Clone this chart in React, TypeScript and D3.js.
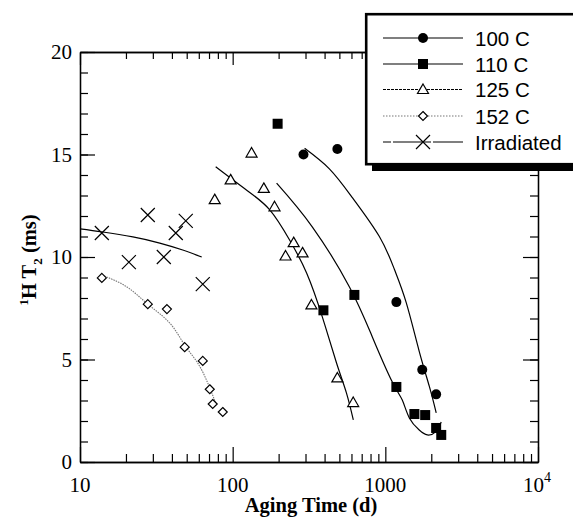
import React, { useEffect, useRef } from 'react';
import * as d3 from 'd3';

// measured points (aging time in days, 1H T2 in ms)
const t100 = [291, 485, 1181, 1745, 2152];
const y100 = [15.0, 15.27, 7.8, 4.5, 3.3];
const t110 = [197, 393, 627, 1181, 1550, 1824, 2152, 2324];
const y110 = [16.5, 7.4, 8.15, 3.66, 2.34, 2.29, 1.66, 1.32];
const t125 = [76.3, 97, 133, 160, 188, 222, 251, 287, 328, 485, 616];
const y125 = [12.8, 13.76, 15.07, 13.35, 12.45, 10.05, 10.7, 10.2, 7.66, 4.1, 2.9];
const t152 = [13.9, 27.8, 37.1, 48.5, 63.7, 70.8, 74.0, 86.1];
const y152 = [8.98, 7.7, 7.46, 5.6, 4.93, 3.55, 2.83, 2.44];
const tIrr = [13.9, 20.9, 27.8, 35.4, 42.4, 49.3, 63.7];
const yIrr = [11.17, 9.75, 12.05, 10.0, 11.17, 11.76, 8.68];

// fitted curves
const fit100T = [296, 430, 608, 914, 1146, 1372, 1667, 1940, 2154];
const fit100Y = [15.3, 14.3, 12.9, 11.0, 9.4, 7.76, 5.4, 3.7, 2.4];
const fit110T = [194, 333, 582, 822, 1111, 1291, 1436, 1667, 1883, 2123, 2324];
const fit110Y = [13.6, 11.46, 8.54, 6.1, 3.9, 3.02, 2.15, 1.56, 1.32, 1.46, 1.95];
const fit125T = [77.4, 123, 175, 236, 305, 387, 479, 556, 617];
const fit125Y = [14.4, 13.27, 12.3, 10.83, 9.22, 7.07, 4.83, 3.37, 2.05];
const fit152T = [13.9, 20.3, 27.8, 38.7, 48.5, 59, 68.7, 77.4];
const fit152Y = [9.12, 8.54, 7.7, 6.78, 5.7, 4.83, 3.85, 2.88];
const fitIrrT = [10, 14.1, 22.2, 33.3, 47.1, 62.7];
const fitIrrY = [11.37, 11.22, 10.98, 10.68, 10.34, 10.0];

const xMajor = [10, 100, 1000, 10000];
const xMinor = [20, 30, 40, 50, 60, 70, 80, 90, 200, 300, 400, 500, 600, 700, 800, 900, 2000, 3000, 4000, 5000, 6000, 7000, 8000, 9000];
const yMajor = [0, 5, 10, 15, 20];
const yMinor = d3.range(0, 21);

const legendLabels = ['100 C', '110 C', '125 C', '152 C', 'Irradiated'];

const W = 573;
const H = 521;

const App = () => {
  const ref = useRef<SVGSVGElement | null>(null);

  useEffect(() => {
    document.body.style.margin = '0';
    const svg = d3.select(ref.current);
    svg.selectAll('*').remove();

    const x = d3.scaleLog().domain([10, 10000]).range([80, 538]);
    const y = d3.scaleLinear().domain([0, 20]).range([462, 52]);
    const serif = '"Liberation Serif", "Times New Roman", serif';
    const sans = '"Liberation Sans", Arial, sans-serif';

    svg.append('rect').attr('width', W).attr('height', H).attr('fill', '#fff');

    const axisG = svg.append('g').attr('class', 'axes');
    const addAxis = (axis: any, tr: string) => {
      const g = axisG.append('g').attr('transform', tr).call(axis);
      g.selectAll('text').remove();
      g.selectAll('line').attr('stroke', '#000').attr('stroke-width', 1.2);
      g.select('.domain').attr('stroke', '#000').attr('stroke-width', 1.3);
    };
    addAxis(d3.axisBottom(x).tickValues(xMajor).tickSize(-15).tickSizeOuter(0), 'translate(0,462)');
    addAxis(d3.axisBottom(x).tickValues(xMinor).tickSize(-8).tickSizeOuter(0), 'translate(0,462)');
    addAxis(d3.axisTop(x).tickValues(xMajor).tickSize(-13).tickSizeOuter(0), 'translate(0,52)');
    addAxis(d3.axisTop(x).tickValues(xMinor).tickSize(-7).tickSizeOuter(0), 'translate(0,52)');
    addAxis(d3.axisLeft(y).tickValues(yMajor).tickSize(-15).tickSizeOuter(0), 'translate(80,0)');
    addAxis(d3.axisLeft(y).tickValues(yMinor).tickSize(-8).tickSizeOuter(0), 'translate(80,0)');
    addAxis(d3.axisRight(y).tickValues(yMajor).tickSize(-15).tickSizeOuter(0), 'translate(538,0)');
    addAxis(d3.axisRight(y).tickValues(yMinor).tickSize(-8).tickSizeOuter(0), 'translate(538,0)');

    // tick labels
    svg.append('g').selectAll('text').data(yMajor).enter().append('text')
      .attr('x', 72).attr('y', (d) => y(d) + 7)
      .attr('text-anchor', 'end').attr('font-family', serif).attr('font-size', 21)
      .text((d) => d);
    svg.append('g').selectAll('text').data(xMajor.slice(0, 3)).enter().append('text')
      .attr('x', (d) => x(d)).attr('y', 492)
      .attr('text-anchor', 'middle').attr('font-family', serif).attr('font-size', 21)
      .text((d) => d);
    const t4 = svg.append('text').attr('x', x(10000) - 1).attr('y', 492)
      .attr('text-anchor', 'middle').attr('font-family', serif).attr('font-size', 21);
    t4.append('tspan').text('10');
    t4.append('tspan').attr('font-size', 14).attr('dy', -10).text('4');

    // axis titles
    svg.append('text').attr('x', 311).attr('y', 512).attr('text-anchor', 'middle')
      .attr('font-family', serif).attr('font-weight', 'bold').attr('font-size', 20.5)
      .text('Aging Time (d)');
    const yt = svg.append('text').attr('transform', 'translate(36,260) rotate(-90)')
      .attr('text-anchor', 'middle').attr('font-family', serif).attr('font-weight', 'bold')
      .attr('font-size', 20.5);
    yt.append('tspan').attr('font-size', 13).attr('dy', -8).text('1');
    yt.append('tspan').attr('dy', 8).text('H T');
    yt.append('tspan').attr('font-size', 13).attr('dy', 6).text('2');
    yt.append('tspan').attr('dy', -6).text(' (ms)');

    // fitted lines
    const line = d3.line<[number, number]>()
      .x((d) => x(d[0])).y((d) => y(d[1])).curve(d3.curveNatural);
    const fits = [
      { t: fit100T, v: fit100Y, color: '#000', w: 1.2, dash: null },
      { t: fit110T, v: fit110Y, color: '#000', w: 1.2, dash: null },
      { t: fit125T, v: fit125Y, color: '#000', w: 1.2, dash: null },
      { t: fit152T, v: fit152Y, color: '#777', w: 1.1, dash: '1.5,1' },
      { t: fitIrrT, v: fitIrrY, color: '#000', w: 1.2, dash: null },
    ];
    svg.append('g').selectAll('path').data(fits).enter().append('path')
      .attr('d', (f) => line(f.t.map((t, i) => [t, f.v[i]] as [number, number])))
      .attr('fill', 'none').attr('stroke', (f) => f.color).attr('stroke-width', (f) => f.w)
      .attr('stroke-dasharray', (f) => f.dash);

    // markers
    const drawMarker = (g: any, kind: number, cx: number, cy: number) => {
      if (kind === 0) {
        g.append('circle').attr('cx', cx).attr('cy', cy).attr('r', 5).attr('fill', '#000');
      } else if (kind === 1) {
        g.append('rect').attr('x', cx - 5).attr('y', cy - 5).attr('width', 10).attr('height', 10).attr('fill', '#000');
      } else if (kind === 2) {
        g.append('path').attr('d', `M${cx},${cy - 5.5}L${cx + 5.5},${cy + 4}L${cx - 5.5},${cy + 4}Z`)
          .attr('fill', '#fff').attr('stroke', '#000').attr('stroke-width', 1.2);
      } else if (kind === 3) {
        g.append('path').attr('d', `M${cx},${cy - 4.5}L${cx + 4.5},${cy}L${cx},${cy + 4.5}L${cx - 4.5},${cy}Z`)
          .attr('fill', '#fff').attr('stroke', '#000').attr('stroke-width', 1.2);
      } else {
        g.append('path').attr('d', `M${cx - 7},${cy - 7}L${cx + 7},${cy + 7}M${cx - 7},${cy + 7}L${cx + 7},${cy - 7}`)
          .attr('fill', 'none').attr('stroke', '#000').attr('stroke-width', 1.2);
      }
    };
    const series = [
      [t100, y100], [t110, y110], [t125, y125], [t152, y152], [tIrr, yIrr],
    ];
    const mg = svg.append('g');
    series.forEach(([ts, vs], k) => {
      ts.forEach((t, i) => drawMarker(mg, k, x(t), y(vs[i])));
    });

    // legend
    const lg = svg.append('g');
    lg.append('rect').attr('x', 372).attr('y', 20).attr('width', 220).attr('height', 151).attr('fill', '#000');
    lg.append('rect').attr('x', 366.2).attr('y', 14.2).attr('width', 220).attr('height', 150)
      .attr('fill', '#fff').attr('stroke', '#000').attr('stroke-width', 2.6);
    const rows = [38, 64, 89.5, 116, 142];
    const legendDash = [null, null, '3,1', '1.5,1.5', '8,2,30,0'];
    legendLabels.forEach((lab, k) => {
      const ry = rows[k];
      lg.append('line').attr('x1', 383).attr('x2', 463).attr('y1', ry).attr('y2', ry)
        .attr('stroke', fits[k].color).attr('stroke-width', 1.2)
        .attr('stroke-dasharray', legendDash[k]);
      drawMarker(lg, k, 423, ry);
      lg.append('text').attr('x', 475).attr('y', ry + 7.5).attr('font-family', sans).attr('font-size', 20.5)
        .text(lab);
    });
  }, []);

  return <svg ref={ref} width={W} height={H} style={{ display: 'block' }} />;
};

export default App;
